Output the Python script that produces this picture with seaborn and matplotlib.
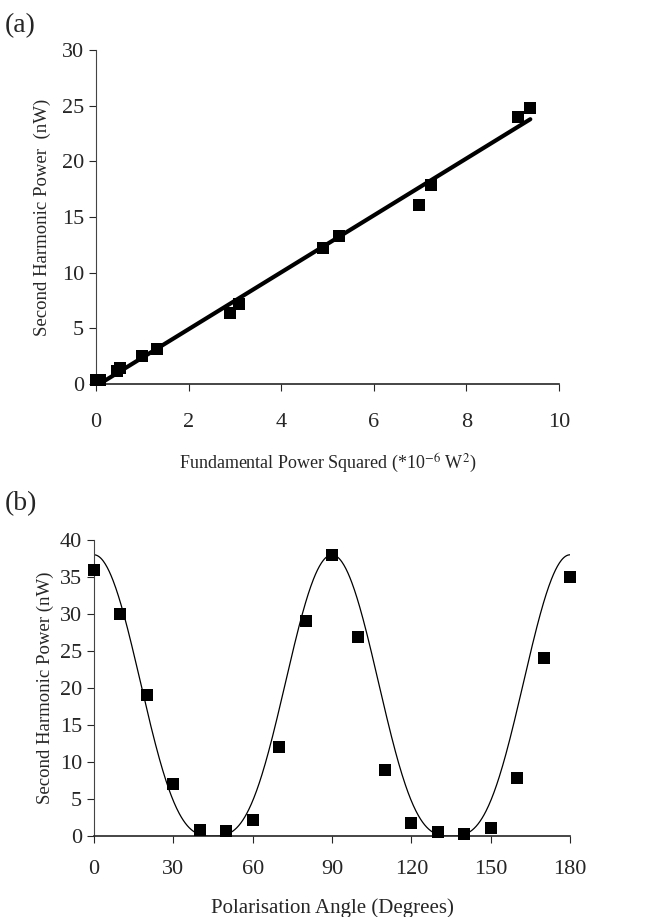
import numpy as np
import pandas as pd
import matplotlib
matplotlib.use('Agg')
import matplotlib.pyplot as plt
import seaborn as sns

# panel (a): SH power vs fundamental power squared
fund_sq = [0.01, 0.09, 0.46, 0.52, 0.99, 1.31, 2.90, 3.09, 4.91, 5.25, 6.97, 7.24, 9.12, 9.38]
shg_a = [0.35, 0.4, 1.2, 1.4, 2.5, 3.1, 6.4, 7.2, 12.2, 13.3, 16.1, 17.9, 24.0, 24.8]

# panel (b): SH power vs polarisation angle
angle = [0, 10, 20, 30, 40, 50, 60, 70, 80, 90, 100, 110, 120, 130, 140, 150, 160, 170, 180]
shg_b = [35.9, 30.0, 19.0, 7.0, 0.8, 0.7, 2.2, 12.0, 29.0, 38.0, 26.9, 8.9, 1.8, 0.5, 0.3, 1.1, 7.8, 24.0, 35.0]

# model curve for (b)
fit_amp = 38.0
fit_power = 3.0

sns.set_style('ticks')
plt.rcParams['font.family'] = ['Liberation Serif', 'DejaVu Serif']
plt.rcParams['mathtext.fontset'] = 'stix'

fig = plt.figure(figsize=(6.45, 9.17), dpi=100)
ax1 = fig.add_axes([96/645, 1 - 384/917, (559-96)/645, (384-50)/917])
ax2 = fig.add_axes([94/645, 1 - 836/917, (570-94)/645, (836-540)/917])

df_a = pd.DataFrame({'x': fund_sq, 'y': shg_a})
sns.regplot(data=df_a, x='x', y='y', ax=ax1, ci=None, marker='s',
            scatter_kws=dict(s=70, color='black', alpha=1, linewidths=0, zorder=3, clip_on=False),
            line_kws=dict(color='black', lw=3))
ax1.set_xlim(0, 10)
ax1.set_ylim(0, 30)
ax1.set_xticks([0, 2, 4, 6, 8, 10])
ax1.set_yticks([0, 5, 10, 15, 20, 25, 30])
ax1.set_xlabel(r'Fundamental Power Squared (*10$^{-6}$ W$^{2}$)', fontsize=13, labelpad=14)
ax1.set_ylabel('Second Harmonic Power  (nW)', fontsize=13.5, labelpad=8)

theta = np.linspace(0, 180, 721)
curve = fit_amp * np.abs(np.cos(np.radians(2 * theta))) ** fit_power
df_curve = pd.DataFrame({'x': theta, 'y': curve})
df_b = pd.DataFrame({'x': angle, 'y': shg_b})
sns.lineplot(data=df_curve, x='x', y='y', ax=ax2, color='black', lw=0.9)
sns.scatterplot(data=df_b, x='x', y='y', ax=ax2, marker='s', s=70, color='black',
                linewidth=0, zorder=3, clip_on=False)
ax2.set_xlim(0, 180)
ax2.set_ylim(0, 40)
ax2.set_xticks(range(0, 181, 30))
ax2.set_yticks(range(0, 41, 5))
ax2.set_xlabel('Polarisation Angle (Degrees)', fontsize=15, labelpad=14)
ax2.set_ylabel('Second Harmonic Power (nW)', fontsize=13.5, labelpad=4)

for ax in (ax1, ax2):
    sns.despine(ax=ax)
    ax.spines['left'].set_color('#444444')
    ax.spines['bottom'].set_linewidth(1.2)
    ax.tick_params(labelsize=16, length=5, width=0.8, direction='out')
ax1.tick_params(axis='x', pad=16)
ax2.tick_params(axis='x', pad=12)

fig.text(5/645, 1 - 32/917, '(a)', fontsize=20)
fig.text(5/645, 1 - 510/917, '(b)', fontsize=20)

fig.savefig('out.png', dpi=100)
